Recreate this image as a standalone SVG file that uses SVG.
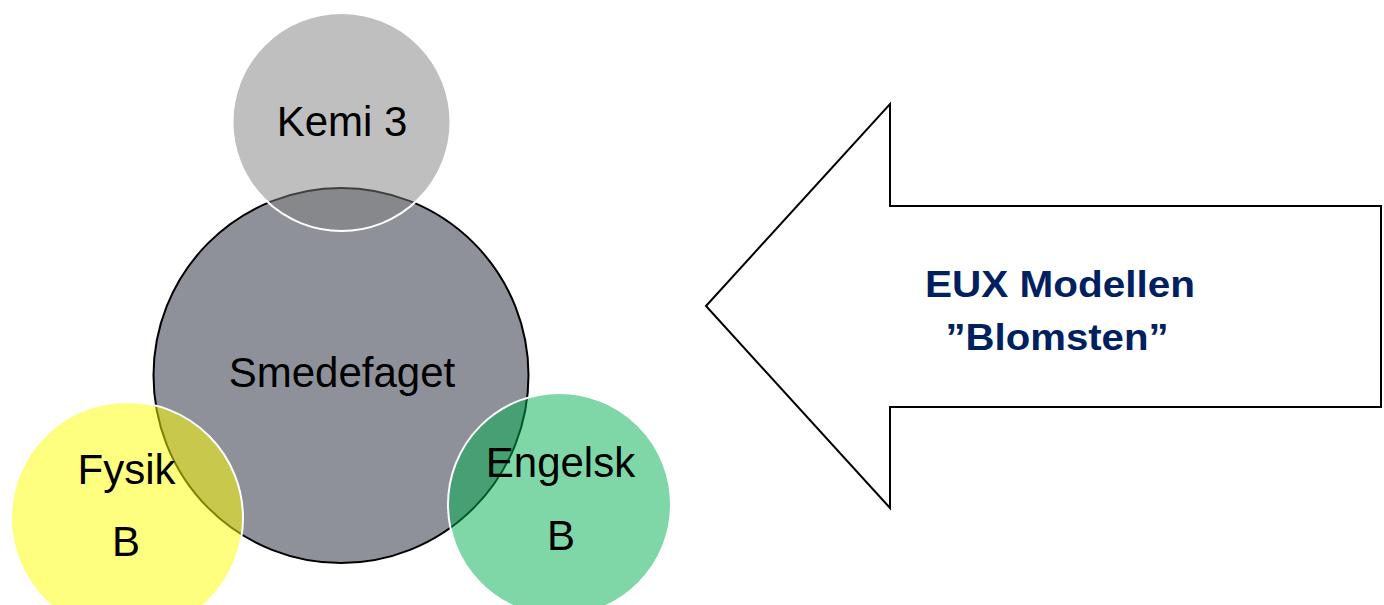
<svg xmlns="http://www.w3.org/2000/svg" width="1384" height="605" viewBox="0 0 1384 605">
<style>
.lbl{font-family:"Liberation Sans",Arial,sans-serif;font-size:42px;fill:#000;text-anchor:middle}
.ttl{font-family:"Liberation Sans",Arial,sans-serif;font-size:36px;font-weight:bold;fill:#002060;text-anchor:middle}
.sat{stroke:#fff;stroke-width:2;fill-opacity:0.5}
</style>
<rect width="1384" height="605" fill="#fff"/>
<g id="smedefaget">
<circle cx="341" cy="375.5" r="187.5" fill="#8e9199" stroke="#000" stroke-width="2"/>
<text class="lbl" x="342" y="387">Smedefaget</text>
</g>
<g id="kemi">
<circle class="sat" cx="341.5" cy="122" r="109" fill="#7f7f7f"/>
<text class="lbl" x="342" y="136">Kemi 3</text>
</g>
<g id="fysik">
<circle class="sat" cx="127" cy="518" r="116" fill="#ffff00"/>
<text class="lbl" x="126.5" y="484">Fysik</text>
<text class="lbl" x="126" y="556">B</text>
</g>
<g id="engelsk">
<circle class="sat" cx="559.5" cy="504.5" r="111.5" fill="#00b050"/>
<text class="lbl" x="560.5" y="477">Engelsk</text>
<text class="lbl" x="561" y="550">B</text>
</g>
<g id="arrow">
<polygon points="706,306 890,104 890,206 1381,206 1381,407 890,407 890,508" fill="#fff" stroke="#000" stroke-width="2" stroke-linejoin="miter"/>
<text class="ttl" x="1060" y="297" textLength="270" lengthAdjust="spacingAndGlyphs">EUX Modellen</text>
<text class="ttl" x="1057" y="350" textLength="223" lengthAdjust="spacingAndGlyphs">”Blomsten”</text>
</g>
<g id="connectors"></g>
</svg>
